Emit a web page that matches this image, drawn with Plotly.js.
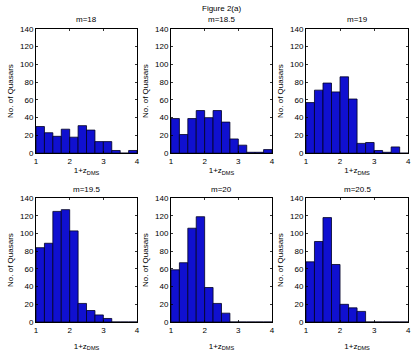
<!DOCTYPE html>
<html>
<head>
<meta charset="utf-8">
<script src="https://cdn.plot.ly/plotly-3.0.1.min.js"></script>
<style>
  html, body { margin: 0; padding: 0; background: #fff; }
  #chart { width: 414px; height: 357px; }
</style>
</head>
<body>
<div id="chart"></div>
<script>
// bin centres of 1+z_DMS, width 0.25 from 1 to 4
var binCenters = [1.125, 1.375, 1.625, 1.875, 2.125, 2.375, 2.625, 2.875, 3.125, 3.375, 3.625, 3.875];
var binWidth = 0.25;

// counts per magnitude bin
var m18   = [30, 23, 19, 27, 18, 31, 26, 13, 13, 3, 0, 3];
var m18_5 = [39, 21, 39, 48, 40, 48, 35, 16, 9, 1, 1, 4];
var m19   = [57, 71, 79, 69, 86, 61, 11, 12, 3, 1, 7, 0];
var m19_5 = [84, 89, 125, 127, 103, 21, 13, 8, 4, 0, 0, 0];
var m20   = [59, 67, 106, 119, 39, 21, 10, 0, 0, 0, 0, 0];
var m20_5 = [68, 91, 118, 65, 20, 16, 12, 0, 0, 0, 0, 0];

var panelTitles = ['m=18', 'm=18.5', 'm=19', 'm=19.5', 'm=20', 'm=20.5'];
var panelCounts = [m18, m18_5, m19, m19_5, m20, m20_5];

var xTicks = [1, 2, 3, 4];
var yTicks = [0, 20, 40, 60, 80, 100, 120, 140];

// panel positions (paper fractions)
var colDomains = [[0.087, 0.331], [0.413, 0.657], [0.739, 0.986]];
var rowDomains = [[0.571, 0.919], [0.098, 0.445]];

var tickFont = {family: 'Liberation Sans, Arial, sans-serif', size: 8, color: '#000'};

var data = [];
var layout = {
  width: 414, height: 357,
  margin: {l: 0, r: 0, t: 0, b: 0},
  paper_bgcolor: '#fff', plot_bgcolor: '#fff',
  showlegend: false,
  bargap: 0,
  font: tickFont,
  annotations: [{
    text: 'Figure 2(a)', xref: 'paper', yref: 'paper',
    x: 0.536, y: 1 - 8 / 357, showarrow: false,
    xanchor: 'center', yanchor: 'middle', font: tickFont
  }]
};

for (var i = 0; i < 6; i++) {
  var row = Math.floor(i / 3), col = i % 3;
  var n = i + 1;
  var xa = n === 1 ? 'x' : 'x' + n;
  var ya = n === 1 ? 'y' : 'y' + n;
  data.push({
    type: 'bar', x: binCenters, y: panelCounts[i], width: binWidth,
    xaxis: xa, yaxis: ya,
    marker: {color: '#1010d0', line: {color: '#000022', width: 0.8}},
    hoverinfo: 'x+y'
  });
  var axBase = {
    showgrid: false, zeroline: false,
    showline: true, linecolor: '#000', linewidth: 1, mirror: 'ticks',
    ticks: 'inside', ticklen: 2, tickcolor: '#000', tickwidth: 0.8,
    tickfont: tickFont, fixedrange: true
  };
  layout['xaxis' + (n === 1 ? '' : n)] = Object.assign({}, axBase, {
    domain: colDomains[col], anchor: ya,
    range: [1, 4], tickvals: xTicks,
    title: {text: '1+z<sub>DMS</sub>', font: tickFont, standoff: row === 0 ? 2 : 9}
  });
  layout['yaxis' + (n === 1 ? '' : n)] = Object.assign({}, axBase, {
    domain: rowDomains[row], anchor: xa,
    range: [0, 140], tickvals: yTicks,
    title: {text: 'No. of Quasars', font: tickFont, standoff: 5}
  });
  layout.annotations.push({
    text: panelTitles[i], xref: 'paper', yref: 'paper',
    x: (colDomains[col][0] + colDomains[col][1]) / 2,
    y: rowDomains[row][1] + 9 / 357,
    showarrow: false, xanchor: 'center', yanchor: 'middle', font: tickFont
  });
}

Plotly.newPlot('chart', data, layout, {displayModeBar: false, staticPlot: true});
</script>
</body>
</html>
